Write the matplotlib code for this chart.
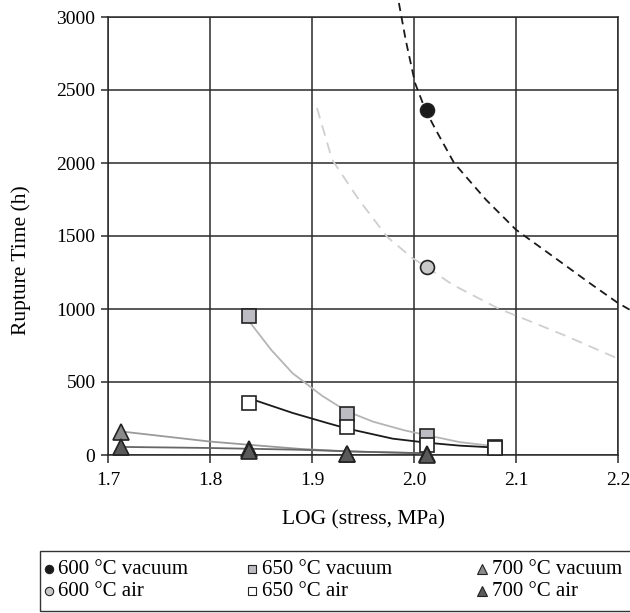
import matplotlib
matplotlib.use("Agg")
import matplotlib.pyplot as plt
from matplotlib.lines import Line2D
from matplotlib.patches import Rectangle

plt.rcParams['font.family'] = ['Liberation Serif', 'DejaVu Serif']

# ---- data points ----
log_stress_600 = [2.013]
t_600_vac = [2360]
t_600_air = [1290]

log_stress_650 = [1.838, 1.934, 2.013, 2.079]
t_650_vac = [952, 280, 132, 58]
t_650_air = [356, 192, 68, 45]

log_stress_700 = [1.713, 1.838, 1.934, 2.013]
t_700_vac = [160, 38, 8, 6]
t_700_air = [52, 27, 5, 3]

# ---- fitted curves ----
curve_600_vac_x = [1.9852, 1.9918, 2.001, 2.0115, 2.0213, 2.0393, 2.0705, 2.100, 2.1361, 2.1721, 2.200, 2.2115]
curve_600_vac_y = [3096, 2845, 2548, 2358, 2228, 2000, 1749, 1543, 1361, 1178, 1041, 995]

curve_600_air_x = [1.9049, 1.9197, 1.9459, 1.9738, 1.9984, 2.0115, 2.0377, 2.0836, 2.100, 2.1492, 2.1984]
curve_600_air_y = [2377, 2023, 1749, 1493, 1349, 1292, 1167, 1000, 955, 815, 665]

curve_650_vac_x = [1.839, 1.860, 1.881, 1.910, 1.934, 1.960, 1.990, 2.013, 2.045, 2.077]
curve_650_vac_y = [910, 720, 560, 405, 300, 228, 170, 135, 88, 62]

curve_650_air_x = [1.844, 1.881, 1.915, 1.934, 1.979, 2.013, 2.045, 2.077]
curve_650_air_y = [375, 288, 219, 182, 112, 84, 64, 52]

curve_700_vac_x = [1.717, 1.800, 1.838, 1.888, 1.934, 2.006]
curve_700_vac_y = [158, 92, 70, 42, 25, 12]

curve_700_air_x = [1.717, 1.800, 1.888, 1.950, 2.013]
curve_700_air_y = [55, 48, 36, 22, 12]

x_ticks = [1.7, 1.8, 1.9, 2.0, 2.1, 2.2]
y_ticks = [0, 500, 1000, 1500, 2000, 2500, 3000]

labels = ["600 °C vacuum", "600 °C air", "650 °C vacuum", "650 °C air",
          "700 °C vacuum", "700 °C air"]

W, H = 630, 613
fig = plt.figure(figsize=(W/100, H/100), dpi=100)
ax = fig.add_axes([108/W, 1-455/H, 510/W, 438/H])

ax.set_xlim(1.7, 2.2)
ax.set_ylim(0, 3000)
ax.set_xticks(x_ticks)
ax.set_xticklabels([f"{v:.1f}" for v in x_ticks])
ax.set_yticks(y_ticks)
ax.grid(True, color='#2a2a2a', linewidth=1.1)
ax.set_axisbelow(True)
for s in ax.spines.values():
    s.set_color('#2a2a2a')
    s.set_linewidth(1.1)
ax.tick_params(axis='both', direction='out', color='#2a2a2a', width=1.1, labelsize=14)
ax.tick_params(axis='x', length=6, pad=6)
ax.tick_params(axis='y', length=5, pad=4)

ax.set_xlabel("LOG (stress, MPa)", fontsize=15.5)
ax.xaxis.set_label_coords(0.5, (455-510)/438)
ax.set_ylabel("Rupture Time (h)", fontsize=15.5)
ax.yaxis.set_label_coords((31-108)/510, (455-260)/438)

# curves
ax.plot(curve_600_vac_x, curve_600_vac_y, color='#1a1a1a', lw=1.3, ls=(0, (4.5, 3)), clip_on=False, zorder=3)
ax.plot(curve_600_air_x, curve_600_air_y, color='#cfcfcf', lw=1.3, ls=(0, (6, 4)), zorder=3)
ax.plot(curve_650_vac_x, curve_650_vac_y, color='#b5b5b5', lw=1.3, zorder=3)
ax.plot(curve_650_air_x, curve_650_air_y, color='#1a1a1a', lw=1.3, zorder=3)
ax.plot(curve_700_vac_x, curve_700_vac_y, color='#9a9a9a', lw=1.3, zorder=3)
ax.plot(curve_700_air_x, curve_700_air_y, color='#666666', lw=1.3, zorder=3)

# markers
mk = dict(ls='none', markeredgecolor='#222222', markeredgewidth=1.2, zorder=5, clip_on=False)
ax.plot(log_stress_600, t_600_vac, marker='o', ms=10, markerfacecolor='#1a1a1a', **mk)
ax.plot(log_stress_600, t_600_air, marker='o', ms=10, markerfacecolor='#c8c8c8', **mk)
ax.plot(log_stress_650, t_650_vac, marker='s', ms=9.5, markerfacecolor='#bcbcc2', **mk)
ax.plot(log_stress_650, t_650_air, marker='s', ms=9.5, markerfacecolor='#ffffff', **mk)
ax.plot(log_stress_700, t_700_vac, marker='^', ms=11, markerfacecolor='#8a8a8a', **mk)
ax.plot(log_stress_700, t_700_air, marker='^', ms=11, markerfacecolor='#5a5a5a', **mk)

# legend (manual layout in figure pixels)
fig.add_artist(Rectangle((40/W, 1-611/H), 600/W, 60/H, transform=fig.transFigure,
                         facecolor='white', edgecolor='#333333', linewidth=1.0, clip_on=False))
leg_markers = [('o', 6, '#1a1a1a'), ('o', 6, '#c8c8c8'), ('s', 6, '#bcbcc2'),
               ('s', 6, '#ffffff'), ('^', 7, '#8a8a8a'), ('^', 7, '#5a5a5a')]
col_marker_x = [49, 252, 482]
col_text_x = [58, 262, 492]
row_y = [569, 591]
for i, (lab, (m, ms, fc)) in enumerate(zip(labels, leg_markers)):
    c, r = divmod(i, 2)
    fig.add_artist(Line2D([col_marker_x[c]/W], [1-row_y[r]/H], marker=m, ms=ms,
                          markerfacecolor=fc, markeredgecolor='#222222',
                          markeredgewidth=0.8, ls='none', transform=fig.transFigure))
    fig.text(col_text_x[c]/W, 1-row_y[r]/H, lab, fontsize=15, ha='left', va='center')

fig.savefig("out.png", dpi=100)
